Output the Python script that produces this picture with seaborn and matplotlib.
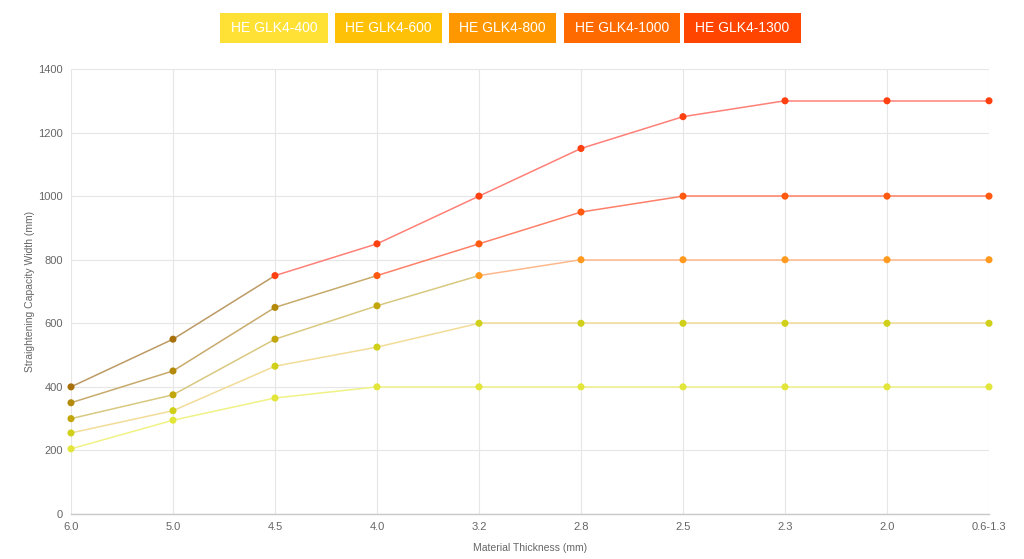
import matplotlib
matplotlib.use("Agg")
import matplotlib.pyplot as plt
from matplotlib.patches import Rectangle
import seaborn as sns
import pandas as pd

thickness = ["6.0", "5.0", "4.5", "4.0", "3.2", "2.8", "2.5", "2.3", "2.0", "0.6-1.3"]
models = ["HE GLK4-400", "HE GLK4-600", "HE GLK4-800", "HE GLK4-1000", "HE GLK4-1300"]
w400 = [205, 295, 365, 400, 400, 400, 400, 400, 400, 400]
w600 = [255, 325, 465, 525, 600, 600, 600, 600, 600, 600]
w800 = [300, 375, 550, 655, 750, 800, 800, 800, 800, 800]
w1000 = [350, 450, 650, 750, 850, 950, 1000, 1000, 1000, 1000]
w1300 = [400, 550, 750, 850, 1000, 1150, 1250, 1300, 1300, 1300]
series = [w400, w600, w800, w1000, w1300]

# styles
legend_colors = ["#ffe135", "#ffc107", "#ff9800", "#ff6a00", "#ff4500"]
early_pt = ["#e2e63a", "#cccc14", "#c2a60a", "#b38a0a", "#a8700a"]
late_pt = ["#e2e63a", "#d0d01a", "#ff9a1e", "#ff5a10", "#ff4010"]
early_ln = ["#f0f286", "#e6e088", "#d8c880", "#c8aa6c", "#bc9a64"]
late_ln = ["#f0f286", "#f2dc98", "#ffb88c", "#ff8068", "#ff8078"]
switch_idx = [0, 0, 4, 3, 2]

sns.set_theme(style="white")
plt.rcParams["font.family"] = ["Liberation Sans", "DejaVu Sans"]

fig = plt.figure(figsize=(10.24, 5.59), dpi=100)
ax = fig.add_axes([71 / 1024, (559 - 514) / 559, (989 - 71) / 1024, (514 - 69) / 559])

xs = list(range(len(thickness)))
for k, m in enumerate(models):
    ys = series[k]
    for i in range(len(xs) - 1):
        col = early_ln[k] if i < switch_idx[k] else late_ln[k]
        sns.lineplot(x=xs[i:i + 2], y=ys[i:i + 2], ax=ax, color=col, lw=1.1, zorder=2)
    pcols = [early_pt[k] if i < switch_idx[k] else late_pt[k] for i in xs]
    ax.scatter(xs, ys, c=pcols, s=26, zorder=3, linewidths=0, clip_on=False)

ax.set_xlim(0, len(thickness) - 1)
ax.set_ylim(0, 1400)
ax.set_yticks(range(0, 1401, 200))
ax.set_xticks(xs)
ax.set_xticklabels(thickness)
ax.grid(True, color="#e6e6e6", lw=0.8)
for s in ["top", "right", "left"]:
    ax.spines[s].set_visible(False)
ax.spines["bottom"].set_color("#c8c8c8")
ax.spines["bottom"].set_linewidth(1.0)
ax.tick_params(axis="both", colors="#666666", labelsize=8, length=4, width=0.8, pad=2)
ax.tick_params(axis="both", color="#e6e6e6")
ax.set_xlabel("Material Thickness (mm)", fontsize=7.5, color="#666666", labelpad=8)
ax.set_ylabel("Straightening Capacity Width (mm)", fontsize=7.5, color="#666666", labelpad=2)

boxes = [(220, 328), (335, 442), (449, 556), (564, 680), (684, 801)]
for (x0, x1), m, c in zip(boxes, models, legend_colors):
    fig.patches.append(Rectangle((x0 / 1024, 1 - 43 / 559), (x1 - x0) / 1024, 30 / 559,
                                 transform=fig.transFigure, facecolor=c, edgecolor="none"))
    fig.text((x0 + x1) / 2 / 1024, 1 - 28 / 559, m, ha="center", va="center",
             color="white", fontsize=10)

fig.savefig("out.png", dpi=100)
